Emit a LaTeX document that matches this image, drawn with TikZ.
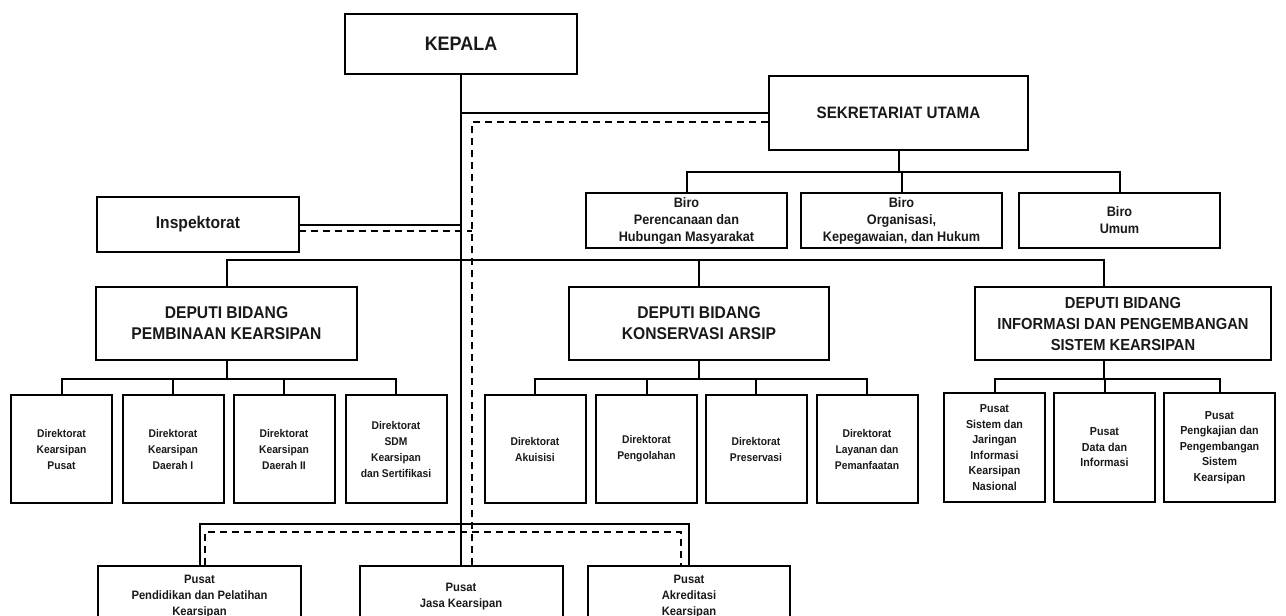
\documentclass[tikz,border=0pt]{standalone}
\usepackage{fontspec}
\setmainfont{Liberation Sans}[FakeStretch=0.92]
\begin{document}
\begin{tikzpicture}[x=1pt,y=-1pt,
  box/.style={draw, line width=2pt, inner sep=0pt, align=center, text=black!90},
  link/.style={line width=2pt},
  dashlink/.style={line width=1.9pt, dash pattern=on 7pt off 5pt},
  fKep/.style={font=\bfseries\fontsize{19.5}{22}\selectfont},
  fSek/.style={font=\bfseries\fontsize{16.5}{19}\selectfont},
  fIns/.style={font=\bfseries\fontsize{17}{19}\selectfont},
  fDep/.style={font=\bfseries\fontsize{17}{21}\selectfont},
  fDepB/.style={font=\bfseries\fontsize{16}{21}\selectfont},
  fBiro/.style={font=\bfseries\fontsize{13.8}{17}\selectfont},
  fDir/.style={font=\bfseries\fontsize{11.2}{16}\selectfont},
  fPus/.style={font=\bfseries\fontsize{11.6}{15.5}\selectfont},
  fBot/.style={font=\bfseries\fontsize{12.2}{16}\selectfont},
  dirbox/.style={box, fDir, minimum width=101pt, minimum height=108pt},
  pusbox/.style={box, fPus, minimum height=109pt},
]
\useasboundingbox (0,0) rectangle (1286,616);
\clip (0,0) rectangle (1286,616);

% top level
\node[box, fKep, minimum width=232pt, minimum height=60pt] (kepala) at (461,44) {KEPALA};
\node[box, fSek, minimum width=259pt, minimum height=74pt] (sekre) at (898.5,113) {SEKRETARIAT UTAMA};
\node[box, fIns, minimum width=202pt, minimum height=55pt] (insp) at (198,224.5) {Inspektorat};

% biro
\node[box, fBiro, minimum width=201pt, minimum height=55pt] (biro1) at (686.5,220.5) {Biro\\Perencanaan dan\\Hubungan Masyarakat};
\node[box, fBiro, minimum width=201pt, minimum height=55pt] (biro2) at (901.5,220.5) {Biro\\Organisasi,\\Kepegawaian, dan Hukum};
\node[box, fBiro, minimum width=201pt, minimum height=55pt] (biro3) at (1119.5,220.5) {Biro\\Umum};

% deputi
\node[box, fDep, minimum width=261pt, minimum height=73pt] (dep1) at (226.5,323.5) {DEPUTI BIDANG\\PEMBINAAN KEARSIPAN};
\node[box, fDep, minimum width=260pt, minimum height=73pt] (dep2) at (699,323.5) {DEPUTI BIDANG\\KONSERVASI ARSIP};
\node[box, fDepB, minimum width=296pt, minimum height=73pt] (dep3) at (1123,323.5) {DEPUTI BIDANG\\INFORMASI DAN PENGEMBANGAN\\SISTEM KEARSIPAN};

% direktorat
\node[dirbox] (d1) at (61.5,449) {Direktorat\\Kearsipan\\Pusat};
\node[dirbox] (d2) at (173,449) {Direktorat\\Kearsipan\\Daerah I};
\node[dirbox] (d3) at (284,449) {Direktorat\\Kearsipan\\Daerah II};
\node[dirbox] (d4) at (396,449) {Direktorat\\SDM\\Kearsipan\\dan Sertifikasi};
\node[dirbox] (d5) at (535,449) {Direktorat\\Akuisisi};
\node[dirbox] (d6) at (646.5,449) {Direktorat\\Pengolahan};
\node[dirbox] (d7) at (756,449) {Direktorat\\Preservasi};
\node[dirbox] (d8) at (867,449) {Direktorat\\Layanan dan\\Pemanfaatan};

% pusat under deputi 3
\node[pusbox, minimum width=101pt] (p1) at (994.5,447.5) {Pusat\\Sistem dan\\Jaringan\\Informasi\\Kearsipan\\Nasional};
\node[pusbox, minimum width=101pt] (p2) at (1104.5,447.5) {Pusat\\Data dan\\Informasi};
\node[pusbox, minimum width=111pt] (p3) at (1219.5,447.5) {Pusat\\Pengkajian dan\\Pengembangan\\Sistem\\Kearsipan};

% bottom pusat
\node[box, fBot, minimum width=203pt, minimum height=62pt] (b1) at (199.5,597) {Pusat\\Pendidikan dan Pelatihan\\Kearsipan};
\node[box, fBot, minimum width=203pt, minimum height=62pt] (b2) at (461,597) {Pusat\\Jasa Kearsipan};
\node[box, fBot, minimum width=202pt, minimum height=62pt] (b3) at (689,597) {Pusat\\Akreditasi\\Kearsipan};

% coordinates
\coordinate (dA) at (472,122);
\coordinate (iD) at (299,231);
\coordinate (sb) at (898,172);
\coordinate (db) at (0,260);
\coordinate (dirbus) at (0,379);
\coordinate (dep3in) at (1104,287);
\coordinate (bb) at (0,524);
\coordinate (bdl) at (205,532);
\coordinate (bdr) at (681,532);

% main line
\draw[link] (kepala.south) -- (kepala.south |- b2.north);
\draw[link] (kepala.south |- sekre.west) -- (sekre.west);
\draw[link] (insp.east) -- (insp.east -| kepala.south);

% dashed coordination lines
\draw[dashlink] (sekre.west |- dA) -- (dA) -- (dA |- b2.north);
\draw[dashlink] (iD) -- (iD -| dA);
\draw[dashlink] (bdl |- b1.north) -- (bdl) -- (bdr) -- (bdr |- b3.north);

% sekretariat to biro
\draw[link] (sekre.south) -- (sekre.south |- sb);
\draw[link] (biro1.north) -- (biro1.north |- sb) -- (biro3.north |- sb) -- (biro3.north);
\draw[link] (biro2.north) -- (biro2.north |- sb);

% deputi bus
\draw[link] (dep1.north) -- (dep1.north |- db) -- (dep3in |- db) -- (dep3in);
\draw[link] (dep2.north) -- (dep2.north |- db);

% deputi 1 children
\draw[link] (dep1.south) -- (dep1.south |- dirbus);
\draw[link] (d1.north) -- (d1.north |- dirbus) -- (d4.north |- dirbus) -- (d4.north);
\draw[link] (d2.north) -- (d2.north |- dirbus);
\draw[link] (d3.north) -- (d3.north |- dirbus);

% deputi 2 children
\draw[link] (dep2.south) -- (dep2.south |- dirbus);
\draw[link] (d5.north) -- (d5.north |- dirbus) -- (d8.north |- dirbus) -- (d8.north);
\draw[link] (d6.north) -- (d6.north |- dirbus);
\draw[link] (d7.north) -- (d7.north |- dirbus);

% deputi 3 children
\draw[link] (dep3in |- dep3.south) -- (dep3in |- dirbus);
\draw[link] (p1.north) -- (p1.north |- dirbus) -- (p3.north |- dirbus) -- (p3.north);
\draw[link] (p2.north) -- (p2.north |- dirbus);

% bottom bus
\draw[link] (b1.north) -- (b1.north |- bb) -- (b3.north |- bb) -- (b3.north);
\end{tikzpicture}
\end{document}
